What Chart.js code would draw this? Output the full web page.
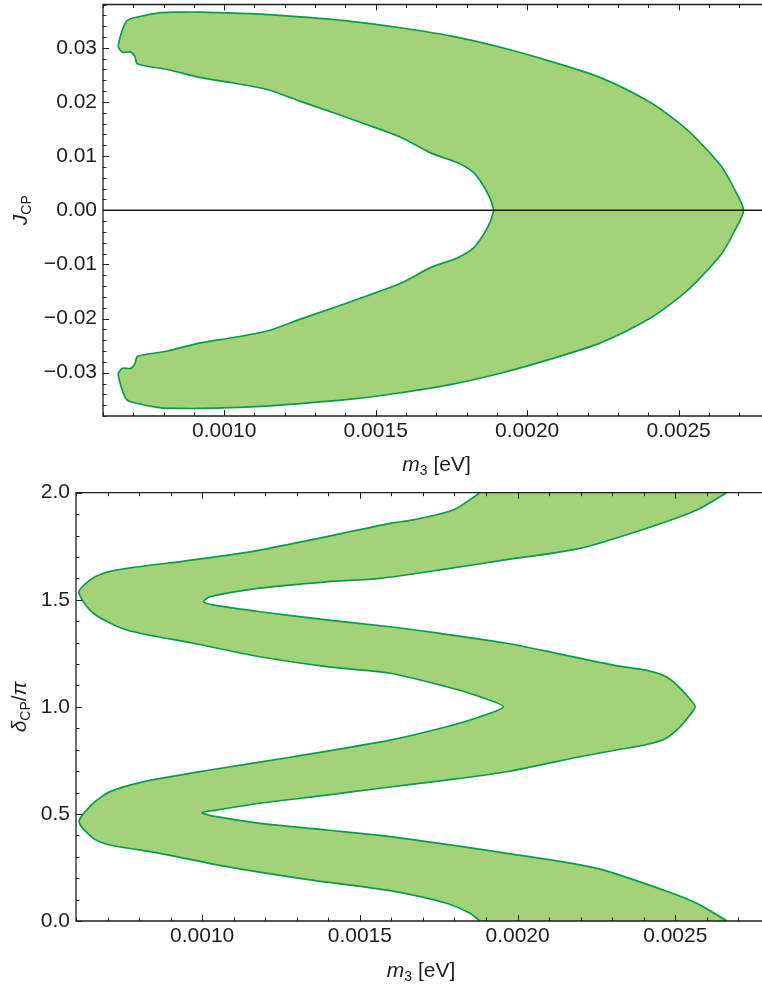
<!DOCTYPE html>
<html>
<head>
<meta charset="utf-8">
<script src="https://cdn.jsdelivr.net/npm/chart.js@4/dist/chart.umd.min.js"></script>
<style>
  body { margin: 0; background: #fff; }
  #wrap { position: relative; width: 762px; height: 984px; }
  canvas { position: absolute; left: 0; }
</style>
</head>
<body>
<div id="wrap">
  <canvas id="jcp-chart" width="762" height="480" style="top:0"></canvas>
  <canvas id="delta-chart" width="762" height="504" style="top:480px"></canvas>
</div>
<script>
// Tick labels
const m3Ticks = [0.0010, 0.0015, 0.0020, 0.0025];
const jcpTicks = [-0.03, -0.02, -0.01, 0, 0.01, 0.02, 0.03];
const deltaTicks = [0, 0.5, 1, 1.5, 2];

// Allowed J_CP region: one closed boundary, starting at the inner tip on J = 0
const jcpBoundaryM3 = [
  0.001890, 0.001879, 0.001857, 0.001824, 0.001769, 0.001681, 0.001582, 0.001472, 0.001361, 0.001252, 0.001142, 0.001031, 0.000922, 0.000813, 0.000714,
  0.000705, 0.000692, 0.000664, 0.000650,
  0.000677, 0.000714, 0.000791, 0.000857, 0.000922, 0.001087, 0.001252, 0.001417, 0.001582, 0.001746, 0.001912, 0.002077, 0.002242, 0.002407, 0.002506, 0.002561, 0.002637, 0.002660, 0.002681, 0.002714,
  0.002681, 0.002660, 0.002637, 0.002561, 0.002506, 0.002407, 0.002242, 0.002077, 0.001912, 0.001746, 0.001582, 0.001417, 0.001252, 0.001087, 0.000922, 0.000857, 0.000791, 0.000714, 0.000677,
  0.000650, 0.000664, 0.000692, 0.000705,
  0.000714, 0.000813, 0.000922, 0.001031, 0.001142, 0.001252, 0.001361, 0.001472, 0.001582, 0.001681, 0.001769, 0.001824, 0.001857, 0.001879, 0.001890
];
const jcpBoundaryJ = [
  0, 0.0020, 0.0044, 0.0069, 0.0088, 0.0106, 0.0135, 0.0158, 0.0180, 0.0201, 0.0223, 0.0235, 0.0245, 0.0260, 0.0270,
  0.0284, 0.0292, 0.0292, 0.0303,
  0.0349, 0.0357, 0.0365, 0.0366, 0.0366, 0.0363, 0.0357, 0.0349, 0.0337, 0.0322, 0.0301, 0.0275, 0.0245, 0.0199, 0.0159, 0.0131, 0.0084, 0.0064, 0.0042, 0,
  -0.0042, -0.0064, -0.0084, -0.0131, -0.0159, -0.0199, -0.0245, -0.0275, -0.0301, -0.0322, -0.0337, -0.0349, -0.0357, -0.0363, -0.0366, -0.0366, -0.0365, -0.0357, -0.0349,
  -0.0303, -0.0292, -0.0292, -0.0284,
  -0.0270, -0.0260, -0.0245, -0.0235, -0.0223, -0.0201, -0.0180, -0.0158, -0.0135, -0.0106, -0.0088, -0.0069, -0.0044, -0.0020, 0
];

// delta_CP/pi band: left edge (through the outer left tips), top to bottom
const deltaEdgeAM3 = [
  0.001881, 0.001796, 0.001670, 0.001596, 0.001395, 0.001183, 0.000972, 0.000761, 0.000687, 0.000644, 0.000609,
  0.000655, 0.000761, 0.000972, 0.001183, 0.001395, 0.001596, 0.001775, 0.001881, 0.001955,
  0.001881, 0.001775, 0.001596, 0.001289, 0.001025, 0.000813, 0.000708, 0.000655, 0.000610,
  0.000655, 0.000708, 0.000866, 0.001078, 0.001342, 0.001596, 0.001775, 0.001849, 0.001881
];
const deltaEdgeA = [
  2.0, 1.919, 1.873, 1.857, 1.795, 1.732, 1.686, 1.647, 1.624, 1.592, 1.535,
  1.437, 1.359, 1.297, 1.234, 1.188, 1.157, 1.094, 1.047, 1.0,
  0.954, 0.907, 0.845, 0.767, 0.705, 0.650, 0.604, 0.550, 0.464,
  0.386, 0.355, 0.316, 0.254, 0.192, 0.142, 0.083, 0.036, 0.0
];
// right edge (through the inner tips and the tip at 1.0), top to bottom
const deltaEdgeBM3 = [
  0.002663, 0.002568, 0.002410, 0.002198, 0.001960, 0.001775, 0.001564, 0.001395, 0.001183, 0.001025, 0.001004,
  0.001035, 0.001183, 0.001395, 0.001596, 0.001754, 0.001966, 0.002124, 0.002304, 0.002410, 0.002473, 0.002515, 0.002544, 0.002563,
  0.002544, 0.002515, 0.002473, 0.002410, 0.002304, 0.002198, 0.001966, 0.001775, 0.001564, 0.001395, 0.001183, 0.001046, 0.000999,
  0.001046, 0.001183, 0.001395, 0.001596, 0.001966, 0.002251, 0.002462, 0.002568, 0.002663
];
const deltaEdgeB = [
  2.0, 1.919, 1.834, 1.740, 1.686, 1.644, 1.600, 1.584, 1.554, 1.514, 1.491,
  1.476, 1.444, 1.406, 1.374, 1.343, 1.297, 1.250, 1.195, 1.170, 1.139, 1.088, 1.041, 1.0,
  0.957, 0.906, 0.855, 0.824, 0.796, 0.767, 0.697, 0.658, 0.620, 0.588, 0.550, 0.518, 0.506,
  0.487, 0.456, 0.425, 0.394, 0.316, 0.246, 0.145, 0.083, 0.0
];

const FILL = '#a3d379';
const EDGE = '#0a9c4c';
const INK = '#1e1e1e';
const FONT = "'Liberation Sans', Arial, Helvetica, sans-serif";

const zip = (xs, ys) => xs.map((x, i) => ({ x: x, y: ys[i] }));

function stepValues(min, max, step) {
  const vals = [];
  const k0 = Math.ceil(min / step - 1e-6);
  const k1 = Math.floor(max / step + 1e-6);
  for (let k = k0; k <= k1; k++) vals.push(k * step);
  return vals;
}

function isMajor(v, ticks, step) {
  return ticks.some(t => Math.abs(t.value - v) < step * 1e-3);
}

// Mathematica-style frame: inward major/minor ticks on left, bottom and top
const framePlugin = {
  id: 'frame',
  afterDatasetsDraw(chart, args, opts) {
    const { ctx, chartArea: a, scales: { x, y } } = chart;
    ctx.save();
    ctx.strokeStyle = INK;
    ctx.lineWidth = 1.3;
    ctx.beginPath();
    ctx.moveTo(a.right, a.top);
    ctx.lineTo(a.left, a.top);
    ctx.lineTo(a.left, a.bottom);
    ctx.lineTo(a.right, a.bottom);
    ctx.stroke();

    ctx.lineWidth = 1;
    ctx.beginPath();
    stepValues(x.min, x.max, opts.xStep).forEach(v => {
      const px = Math.round(x.getPixelForValue(v)) + 0.5;
      const len = isMajor(v, x.ticks, opts.xStep) ? 6 : 3.5;
      ctx.moveTo(px, a.bottom);
      ctx.lineTo(px, a.bottom - len);
      ctx.moveTo(px, a.top);
      ctx.lineTo(px, a.top + len);
    });
    stepValues(y.min, y.max, opts.yStep).forEach(v => {
      const py = Math.round(y.getPixelForValue(v)) + 0.5;
      const len = isMajor(v, y.ticks, opts.yStep) ? 6 : 3.5;
      ctx.moveTo(a.left, py);
      ctx.lineTo(a.left + len, py);
    });
    ctx.stroke();
    ctx.restore();
  }
};

// draws text runs like m_3 or delta_CP with italic and subscript parts
function drawRuns(ctx, runs, cx, baseY) {
  const fontOf = r => (r.italic ? 'italic ' : '') + (r.sub ? 14 : 21) + 'px ' + FONT;
  let total = 0;
  runs.forEach(r => { ctx.font = fontOf(r); total += ctx.measureText(r.text).width; });
  let xPos = cx - total / 2;
  runs.forEach(r => {
    ctx.font = fontOf(r);
    ctx.fillText(r.text, xPos, baseY + (r.sub ? 4 : 0));
    xPos += ctx.measureText(r.text).width;
  });
}

const axisTitlePlugin = {
  id: 'axisTitles',
  afterDraw(chart, args, opts) {
    const { ctx, chartArea: a } = chart;
    ctx.save();
    ctx.fillStyle = INK;
    ctx.textBaseline = 'alphabetic';
    ctx.textAlign = 'left';
    drawRuns(ctx, opts.x.runs, (a.left + a.right) / 2 + opts.x.shift, opts.x.baseline);
    ctx.translate(opts.y.baseline, (a.top + a.bottom) / 2);
    ctx.rotate(-Math.PI / 2);
    drawRuns(ctx, opts.y.runs, 0, 0);
    ctx.restore();
  }
};

// black horizontal line at J_CP = 0, above the filled region
const zeroLinePlugin = {
  id: 'zeroLine',
  afterDatasetsDraw(chart) {
    const { ctx, chartArea: a, scales: { y } } = chart;
    const py = y.getPixelForValue(0);
    ctx.save();
    ctx.strokeStyle = INK;
    ctx.lineWidth = 1.3;
    ctx.beginPath();
    ctx.moveTo(a.left, py);
    ctx.lineTo(a.right, py);
    ctx.stroke();
    ctx.restore();
  }
};

const m3Runs = [{ text: 'm', italic: true }, { text: '3', sub: true }, { text: ' [eV]' }];

function baseOptions(cfg) {
  return {
    responsive: false,
    animation: false,
    events: [],
    layout: { padding: { top: cfg.padTop, right: 0, bottom: 0, left: 0 } },
    plugins: {
      legend: { display: false },
      tooltip: { enabled: false },
      frame: { xStep: 0.0001, yStep: cfg.yStep },
      axisTitles: cfg.titles,
    },
    scales: {
      x: {
        type: 'linear',
        min: 0.0006,
        max: 0.002775,
        grid: { display: false, drawTicks: false },
        border: { display: false },
        afterBuildTicks: s => { s.ticks = m3Ticks.map(v => ({ value: v })); },
        afterFit: s => { s.height = cfg.xHeight; s.paddingLeft = 0; s.paddingRight = 0; },
        ticks: {
          padding: 3, color: INK, autoSkip: false, maxRotation: 0,
          font: { family: FONT, size: 21 },
          callback: v => v.toFixed(4),
        },
      },
      y: {
        type: 'linear',
        min: cfg.yMin,
        max: cfg.yMax,
        grid: { display: false, drawTicks: false },
        border: { display: false },
        afterBuildTicks: s => { s.ticks = cfg.yTicks.map(v => ({ value: v })); },
        afterFit: s => { s.width = cfg.yWidth; s.paddingTop = 0; s.paddingBottom = 0; },
        ticks: {
          padding: 6, color: INK, autoSkip: false,
          font: { family: FONT, size: 21 },
          callback: cfg.yLabel,
        },
      },
    },
  };
}

new Chart(document.getElementById('jcp-chart').getContext('2d'), {
  type: 'scatter',
  data: {
    datasets: [{
      data: zip(jcpBoundaryM3, jcpBoundaryJ),
      showLine: true,
      fill: 'shape',
      backgroundColor: FILL,
      borderColor: EDGE,
      borderWidth: 1.7,
      pointRadius: 0,
      tension: 0.25,
    }],
  },
  options: baseOptions({
    padTop: 4.5, xHeight: 64, yWidth: 103,
    yMin: -0.038, yMax: 0.038, yStep: 0.002, yTicks: jcpTicks,
    yLabel: v => (v < -1e-9 ? '\u2212' : '') + Math.abs(v).toFixed(2),
    titles: {
      x: { runs: m3Runs, baseline: 471, shift: 4 },
      y: { runs: [{ text: 'J', italic: true }, { text: 'CP', sub: true }], baseline: 27 },
    },
  }),
  plugins: [zeroLinePlugin, framePlugin, axisTitlePlugin],
});

const edgeA = zip(deltaEdgeAM3, deltaEdgeA);
const edgeB = zip(deltaEdgeBM3, deltaEdgeB);

new Chart(document.getElementById('delta-chart').getContext('2d'), {
  type: 'scatter',
  data: {
    datasets: [
      { data: edgeA, showLine: true, fill: false, borderColor: EDGE, borderWidth: 1.7, pointRadius: 0, tension: 0.25, order: 0 },
      { data: edgeB, showLine: true, fill: false, borderColor: EDGE, borderWidth: 1.7, pointRadius: 0, tension: 0.25, order: 0 },
      {
        data: edgeA.concat(edgeB.slice().reverse()),
        showLine: true,
        fill: 'shape',
        backgroundColor: FILL,
        borderColor: 'rgba(0,0,0,0)',
        borderWidth: 0,
        pointRadius: 0,
        tension: 0.25,
        order: 1,
      },
    ],
  },
  options: baseOptions({
    padTop: 12.7, xHeight: 63, yWidth: 76,
    yMin: 0, yMax: 2, yStep: 0.1, yTicks: deltaTicks,
    yLabel: v => v.toFixed(1),
    titles: {
      x: { runs: m3Runs, baseline: 497, shift: 2 },
      y: { runs: [{ text: '\u03b4', italic: true }, { text: 'CP', sub: true }, { text: '/' }, { text: '\u03c0', italic: true }], baseline: 26 },
    },
  }),
  plugins: [framePlugin, axisTitlePlugin],
});
</script>
</body>
</html>
